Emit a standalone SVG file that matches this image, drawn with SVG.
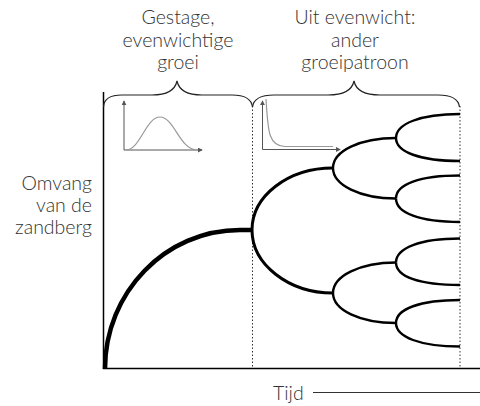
<svg xmlns="http://www.w3.org/2000/svg" width="480" height="406" viewBox="0 0 480 406">
  <defs>
    <style>
      .lbl { font-family: "Lato", "Open Sans", "DejaVu Sans", sans-serif; font-size: 19.5px; font-weight: 300; fill: #333; }
      .axis { stroke: #000; stroke-width: 1.5; fill: none; }
      .dot { stroke: #333; stroke-width: 1; stroke-dasharray: 1.5 2; fill: none; }
      .brace { stroke: #222; stroke-width: 1.2; fill: none; }
      .mini { stroke: #555; stroke-width: 1; fill: none; }
      .curve { stroke: #999; stroke-width: 1.2; fill: none; }
      .b0 { stroke: #000; stroke-width: 4.5; fill: none; }
      .b1 { stroke: #000; stroke-width: 3; fill: none; }
      .b2 { stroke: #000; stroke-width: 2.4; fill: none; }
    </style>
    <marker id="tip" viewBox="0 0 6 6" refX="5" refY="3" markerWidth="5" markerHeight="5" orient="auto">
      <path d="M0,0 L6,3 L0,6 Z" fill="#555"/>
    </marker>
  </defs>

  <!-- headers -->
  <g id="header-steady">
    <text class="lbl" text-anchor="middle" x="178" y="24">Gestage,</text>
    <text class="lbl" text-anchor="middle" x="178" y="46.5">evenwichtige</text>
    <text class="lbl" text-anchor="middle" x="178" y="69">groei</text>
  </g>
  <g id="header-unbalanced">
    <text class="lbl" text-anchor="middle" x="355" y="24">Uit evenwicht:</text>
    <text class="lbl" text-anchor="middle" x="355" y="46.5">ander</text>
    <text class="lbl" text-anchor="middle" x="355" y="69">groeipatroon</text>
  </g>

  <!-- y-axis label -->
  <g id="y-label">
    <text class="lbl" text-anchor="end" x="92" y="190">Omvang</text>
    <text class="lbl" text-anchor="end" x="92" y="212">van de</text>
    <text class="lbl" text-anchor="end" x="92" y="233.5">zandberg</text>
  </g>

  <!-- x-axis label -->
  <g id="x-label">
    <text class="lbl" x="273" y="400">Tijd</text>
    <line x1="313" y1="392.5" x2="480" y2="392.5" stroke="#333" stroke-width="1.2"/>
  </g>

  <!-- axes -->
  <g id="axes">
    <line class="axis" x1="103.5" y1="92" x2="103.5" y2="369"/>
    <line class="axis" x1="103" y1="368.5" x2="480" y2="368.5"/>
  </g>

  <!-- phase boundaries -->
  <g id="boundaries">
    <line class="dot" x1="252.5" y1="106" x2="252.5" y2="368"/>
    <line class="dot" x1="460" y1="106" x2="460" y2="368"/>
  </g>

  <!-- braces -->
  <g id="braces">
    <path class="brace" d="M103.5,107 Q104,95 122,95 L152,95 Q174,95 177,81 Q180,95 202,95 L232,95 Q251,95 252.5,107"/>
    <path class="brace" d="M252.5,107 Q254,95 274,95 L328,95 Q351,95 354,81 Q357,95 380,95 L438,95 Q458,95 459.5,107"/>
  </g>

  <!-- small chart: bell curve -->
  <g id="chart-bell">
    <line class="mini" x1="124" y1="150" x2="124" y2="101" marker-end="url(#tip)"/>
    <line class="mini" x1="124" y1="150" x2="202" y2="150" marker-end="url(#tip)"/>
    <path class="curve" d="M126,150 C140,150 146,117 160,117 C174,117 180,150 197,150"/>
  </g>

  <!-- small chart: decay curve -->
  <g id="chart-decay">
    <line class="mini" x1="262.5" y1="149.5" x2="262.5" y2="101" marker-end="url(#tip)"/>
    <line class="mini" x1="262.5" y1="149.5" x2="340" y2="149.5" marker-end="url(#tip)"/>
    <path class="curve" d="M266,99 C268,130 268,146 285,146.5 L333,146.5"/>
  </g>

  <!-- growth tree -->
  <g id="connectors">
    <path class="b0" d="M105,369 C105,292.3 165.5,230 240,230 L252,230"/>
    <path class="b1" d="M252,230 C252,196 288,168 333,168"/>
    <path class="b1" d="M252,230 C252,264 288,293 333,293"/>
    <path class="b2" d="M333,168 C333,151 360,138 396,138"/>
    <path class="b2" d="M333,168 C333,185 360,198.5 396,198.5"/>
    <path class="b2" d="M333,293 C333,276 360,262.5 396,262.5"/>
    <path class="b2" d="M333,293 C333,310 360,323 396,323"/>
    <path class="b2" d="M396,138 C396,124 420,114 460,114"/>
    <path class="b2" d="M396,138 C396,152 420,161 460,161"/>
    <path class="b2" d="M396,198.5 C396,184 420,175.5 460,175.5"/>
    <path class="b2" d="M396,198.5 C396,213 420,222 460,222"/>
    <path class="b2" d="M396,262.5 C396,248 420,238.5 460,238.5"/>
    <path class="b2" d="M396,262.5 C396,277 420,285 460,285"/>
    <path class="b2" d="M396,323 C396,309 420,300 460,300"/>
    <path class="b2" d="M396,323 C396,337 420,346.5 460,346.5"/>
  </g>
</svg>
